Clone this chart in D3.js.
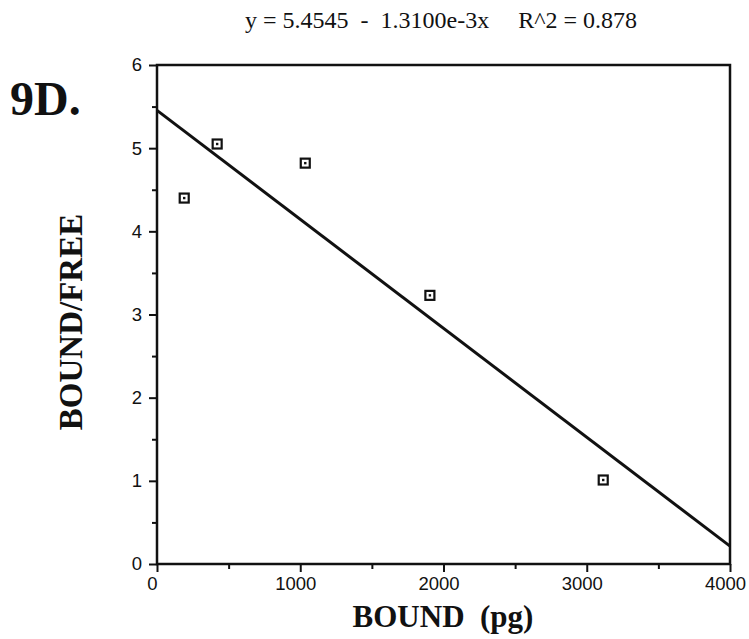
<!DOCTYPE html>
<html>
<head>
<meta charset="utf-8">
<script src="https://cdn.jsdelivr.net/npm/d3@7"></script>
<style>
  body { margin: 0; background: #fff; }
  svg { display: block; }
</style>
</head>
<body>
<svg></svg>
<script>
// data
let boundVals = [190, 420, 1035, 1905, 3115];
let ratioVals = [4.40, 5.05, 4.82, 3.23, 1.01];
let xTicks = [0, 1000, 2000, 3000, 4000];
let yTicks = [0, 1, 2, 3, 4, 5, 6];
let fitA = 5.4545;
let fitB = -1.3100e-3;

let w = 749;
let h = 639;
let padL = 157, padR = 730, padT = 65, padB = 564;

let svg = d3.select('svg').attr('width', w).attr('height', h);

let xSc = d3.scaleLinear().domain([0, 4000]).range([padL, padR]);
let ySc = d3.scaleLinear().domain([0, 6]).range([padB, padT]);

let tickFont = "'Liberation Sans', Arial, sans-serif";
let serif = "'Liberation Serif', 'Times New Roman', serif";

// frame
svg.append('rect')
   .attr('x', padL).attr('y', padT)
   .attr('width', padR - padL).attr('height', padB - padT)
   .attr('fill', 'none').attr('stroke', '#111').attr('stroke-width', 2.5);

// minor ticks
let xMinor = d3.axisBottom(xSc).tickValues([500, 1500, 2500, 3500]).tickSize(5).tickFormat('');
svg.append('g').attr('transform', 'translate(0,' + padB + ')').call(xMinor);
let yMinor = d3.axisLeft(ySc).tickValues([0.5, 1.5, 2.5, 3.5, 4.5, 5.5]).tickSize(5).tickFormat('');
svg.append('g').attr('transform', 'translate(' + padL + ',0)').call(yMinor);

let xAxis = d3.axisBottom(xSc).tickValues(xTicks).tickSize(8).tickPadding(5).tickFormat(d3.format('d'));
svg.append('g').attr('id', 'x-axis').attr('transform', 'translate(0,' + padB + ')').call(xAxis);
let yAxis = d3.axisLeft(ySc).tickValues(yTicks).tickSize(8).tickPadding(7).tickFormat(d3.format('d'));
svg.append('g').attr('id', 'y-axis').attr('transform', 'translate(' + padL + ',0)').call(yAxis);

svg.selectAll('.domain').remove();
svg.selectAll('.tick line').attr('stroke', '#111').attr('stroke-width', 2);
svg.selectAll('.tick text')
   .style('font-family', tickFont).style('font-size', '18.5px').attr('fill', '#111');
// the scan prints x labels a little left of their ticks
svg.select('#x-axis').selectAll('.tick text').attr('x', -5);

// regression line
let lineData = [0, 4000].map(x => [x, fitA + fitB * x]);
svg.append('path')
   .datum(lineData)
   .attr('d', d3.line().x(d => xSc(d[0])).y(d => ySc(d[1])))
   .attr('fill', 'none').attr('stroke', '#111').attr('stroke-width', 3);

// markers
let pts = boundVals.map((b, i) => ({ x: b, y: ratioVals[i] }));
let mk = svg.append('g').selectAll('g').data(pts).enter().append('g')
   .attr('transform', d => 'translate(' + xSc(d.x) + ',' + ySc(d.y) + ')');
mk.append('rect').attr('x', -4.5).attr('y', -4.5).attr('width', 9).attr('height', 9)
  .attr('fill', '#fff').attr('stroke', '#111').attr('stroke-width', 2.2);
mk.append('rect').attr('x', -1.2).attr('y', -1.2).attr('width', 2.4).attr('height', 2.4).attr('fill', '#111');

// texts
svg.append('text').attr('x', 245).attr('y', 28)
   .style('font-family', serif).style('font-size', '24px').attr('fill', '#111')
   .attr('xml:space', 'preserve')
   .text('y = 5.4545  -  1.3100e-3x');
svg.append('text').attr('x', 637).attr('y', 28).attr('text-anchor', 'end')
   .style('font-family', serif).style('font-size', '24px').attr('fill', '#111')
   .text('R^2 = 0.878');

svg.append('text').attr('x', 10).attr('y', 115)
   .style('font-family', serif).style('font-size', '48px').style('font-weight', 'bold').attr('fill', '#111')
   .text('9D.');

svg.append('text').attr('transform', 'translate(82,322) rotate(-90)')
   .attr('text-anchor', 'middle')
   .style('font-family', serif).style('font-size', '33px').style('font-weight', 'bold').attr('fill', '#111')
   .text('BOUND/FREE');

svg.append('text').attr('x', 443).attr('y', 627).attr('text-anchor', 'middle')
   .attr('xml:space', 'preserve')
   .style('font-family', serif).style('font-size', '31px').style('font-weight', 'bold').attr('fill', '#111')
   .text('BOUND  (pg)');
</script>
</body>
</html>
